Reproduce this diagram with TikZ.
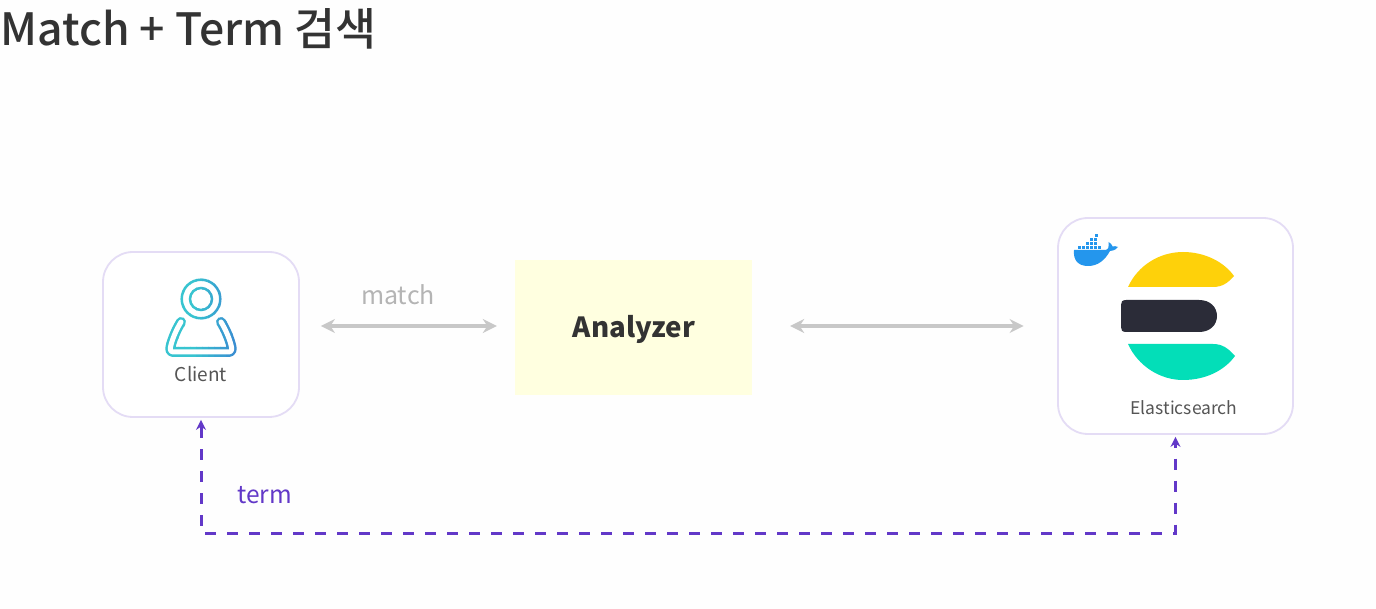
\documentclass[tikz,border=0pt]{standalone}
\usepackage{fontspec}
\setmainfont{Noto Sans CJK KR}
\newfontfamily\titlefont{Noto Sans CJK KR Medium}
\usetikzlibrary{arrows.meta}
\definecolor{cardline}{HTML}{E4DCF5}
\definecolor{padfill}{HTML}{FFFFE0}
\definecolor{arrowgray}{HTML}{C8C8C8}
\definecolor{violetline}{HTML}{6238C8}
\definecolor{inktext}{HTML}{333333}
\definecolor{cardtext}{HTML}{555555}
\definecolor{esyellow}{HTML}{FED10A}
\definecolor{esdark}{HTML}{2B2C38}
\definecolor{esgreen}{HTML}{03DEB8}
\definecolor{dockblue}{HTML}{2496ED}
\definecolor{iconteal}{HTML}{38C4D0}
\definecolor{iconblue}{HTML}{3A55D2}
\tikzset{
  card/.style={draw=cardline,line width=1.8pt,fill=white,rounded corners=30pt,inner sep=0pt,minimum width=#1},
  grayarrow/.style={draw=arrowgray,line width=4pt,{Stealth[length=14pt,width=14pt]}-{Stealth[length=14pt,width=14pt]}},
  termarrow/.style={draw=violetline,line width=3pt,dash pattern=on 11pt off 11pt,dash phase=6.5pt,{Stealth[length=10pt,width=10pt]}-{Stealth[length=10pt,width=10pt]}},
  crate/.style={fill=dockblue,draw=none}
}
\begin{document}
\begin{tikzpicture}[x=1pt,y=-1pt]
\useasboundingbox (0,0) rectangle (1376,609);
\fill[white!99!gray] (0,0) rectangle (1376,609);

\node[anchor=west,inner sep=0pt,text=inktext,font=\titlefont\fontsize{44.5}{54}\selectfont] (title) at (0.5,29) {Match + Term 검색};

% cards
\node[card=196pt,minimum height=165pt] (client) at (201,334.5) {};
\node[card=235pt,minimum height=216pt] (es) at (1175.5,326) {};
\node[fill=padfill,minimum width=237pt,minimum height=135pt,inner sep=0pt] (analyzer) at (633.5,327.5) {};
\node[font=\bfseries\fontsize{27.7}{34}\selectfont,text=inktext,inner sep=0pt] (analyzerlabel) at (634,329) {Analyzer};

% client icon, cut into strips to give it its left-to-right colour run
\foreach \i in {0,...,13}{
  \pgfmathsetmacro{\mixval}{100-max(0,\i-5)*7}
  \colorlet{stripcol}{iconteal!\mixval!iconblue}
  \begin{scope}
    \clip (160+\i*6,272) rectangle (166.5+\i*6,364);
    \draw[stripcol,line width=2.5pt] (201,299) circle[radius=19.3pt];
    \draw[stripcol,line width=2.5pt] (201,299) circle[radius=11pt];
    \draw[stripcol,line width=2.5pt,double=white,double distance=5pt,line cap=round,line join=round]
      (181,322) .. controls (176,330) and (172,340) .. (170.5,347)
      .. controls (169.8,350.5) and (171,352) .. (174,352) -- (228,352)
      .. controls (231,352) and (232.2,350.5) .. (231.5,347)
      .. controls (230,340) and (226,330) .. (221,322);
  \end{scope}
}
\node[font=\fontsize{19}{23}\selectfont,text=cardtext,inner sep=0pt] (clientlabel) at (201,374) {Client};

% Elasticsearch logo
\fill[esyellow] (1128,287) .. controls (1138,265) and (1160,252) .. (1183,252)
  .. controls (1205,252) and (1224,262) .. (1234,276)
  .. controls (1228,283) and (1222,287) .. (1213,287) -- cycle;
\fill[esdark] (1126,300) -- (1199,300) .. controls (1210,300) and (1217,307) .. (1217,316)
  .. controls (1217,325) and (1210,332) .. (1199,332) -- (1126,332)
  .. controls (1122,332) and (1121,330) .. (1121,327) -- (1121,305) .. controls (1121,302) and (1122,300) .. (1126,300) -- cycle;
\fill[esgreen] (1128,344) -- (1213,344) .. controls (1222,344) and (1228,348) .. (1235,356)
  .. controls (1224,371) and (1205,380) .. (1183,380)
  .. controls (1160,380) and (1138,366) .. (1128,344) -- cycle;
\node[font=\fontsize{17.5}{21}\selectfont,text=cardtext,inner sep=0pt] (eslabel) at (1184,408) {Elasticsearch};

% docker whale
\fill[dockblue] (1074,250) -- (1106,250) .. controls (1108,250) and (1109,248) .. (1108.5,242)
  .. controls (1111,243) and (1112,245) .. (1112.5,246.5) .. controls (1114,246) and (1116,246) .. (1118,247)
  .. controls (1115,250.5) and (1112,251) .. (1110,251)
  .. controls (1105,260) and (1098,266) .. (1088,266)
  .. controls (1078,266) and (1073,260) .. (1074,250) -- cycle;
\foreach \cx/\cy in {1078/246.5,1082/246.5,1086/246.5,1090/246.5,1094/246.5,1098/246.5,
                     1086/242.5,1090/242.5,1094/242.5,1094/238.5,1090/238.5,1095/234.5}
  \fill[crate] (\cx,\cy) rectangle ++(3,3);

% connectors
\coordinate (lane) at (0,533);
\coordinate (midrow) at (0,326);
\draw[grayarrow,shorten <=21pt,shorten >=18pt] (client.east |- midrow) -- (analyzer.west |- midrow);
\draw[grayarrow,shorten <=38pt,shorten >=33.5pt] (analyzer.east |- midrow) -- (es.west |- midrow);
\draw[termarrow,shorten <=2pt,shorten >=2pt] (es.south) -- (es.south |- lane) -- (client.south |- lane) -- (client.south);

\node[font=\fontsize{25}{30}\selectfont,text=arrowgray!90!black,inner sep=0pt] (matchlabel) at (398,295) {match};
\node[font=\fontsize{24.5}{29}\selectfont,text=violetline,inner sep=0pt] (termlabel) at (264.5,495) {term};
\end{tikzpicture}
\end{document}
